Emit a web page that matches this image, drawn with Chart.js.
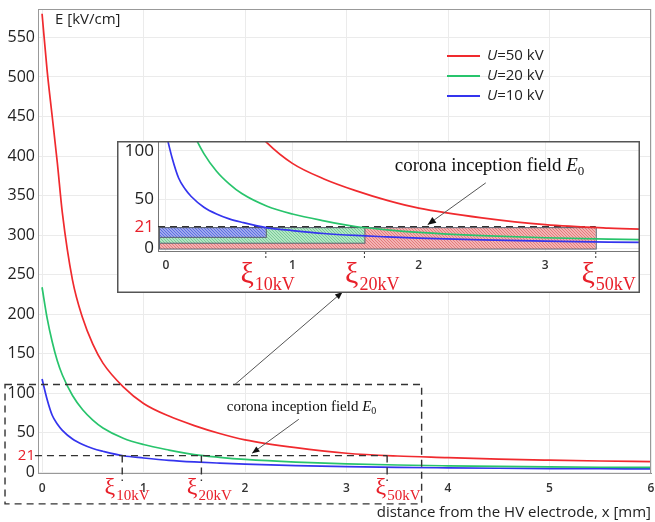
<!DOCTYPE html>
<html>
<head>
<meta charset="utf-8">
<script src="https://cdn.jsdelivr.net/npm/chart.js@4.4.0/dist/chart.umd.min.js"></script>
<style>
  html, body { margin: 0; padding: 0; background: #fff; }
  #wrap { position: relative; width: 655px; height: 522px; }
  #main { position: absolute; left: 0; top: 0; }
  #inset { position: absolute; left: 117px; top: 141px; }
</style>
</head>
<body>
<div id="wrap">
  <canvas id="main" width="655" height="522"></canvas>
  <canvas id="inset" width="523" height="152"></canvas>
</div>
<script>
// distance from the HV electrode [mm]
var xs   = [0, 0.05, 0.1, 0.15, 0.2, 0.3, 0.4, 0.5, 0.6, 0.8, 1.0, 1.25, 1.5, 1.75, 2.0, 2.5, 3.0, 3.5, 4.0, 4.5, 5.0, 5.5, 6.0];
// field strength E [kV/cm]
var eU50 = [580, 508, 450, 392, 328, 243, 195, 162, 138, 108, 87, 71, 59, 49, 41, 31, 24, 20.5, 18.5, 16.5, 15.2, 14.2, 13.5];
var eU20 = [234, 195, 165, 141, 123, 97, 79, 66, 56, 43, 35, 28, 22.2, 18.8, 16.2, 12.8, 10.6, 9.1, 8.1, 7.3, 6.7, 6.3, 6.0];
var eU10 = [118, 92, 72, 61, 53, 42, 35, 30, 26.5, 20.8, 18, 15, 13, 11.5, 10.2, 8.4, 7.1, 6.1, 5.5, 5.0, 4.6, 4.4, 4.2];

var seriesNames = ['=50 kV', '=20 kV', '=10 kV'];
var seriesColors = ['#f02a2e', '#28c46c', '#3434ee'];

var E0 = 21;                       // corona inception field
var xiValues = [0.79, 1.57, 3.40]; // ξ for 10, 20, 50 kV
var xiNames = ['10kV', '20kV', '50kV'];

var mainXTicks = [0, 1, 2, 3, 4, 5, 6];
var mainYTicks = [0, 21, 50, 100, 150, 200, 250, 300, 350, 400, 450, 500, 550];
var insetXTicks = [0, 1, 2, 3];
var insetYTicks = [0, 21, 50, 100];

var SANS = '"Open Sans", "Noto Sans", sans-serif';
var SERIF = '"Liberation Serif", "DejaVu Serif", serif';
var RED = '#e8202a';

function pts(arr) {
  return xs.map(function (x, i) { return { x: x, y: arr[i] }; });
}
function makeDatasets() {
  return [eU50, eU20, eU10].map(function (arr, i) {
    return {
      label: 'U' + seriesNames[i],
      data: pts(arr),
      borderColor: seriesColors[i],
      borderWidth: 1.7,
      pointRadius: 0,
      fill: false,
      cubicInterpolationMode: 'monotone'
    };
  });
}
// kill the automatic label overflow padding so the plot area is exactly where we ask
function noPad(s) { s.paddingLeft = 0; s.paddingRight = 0; s.paddingTop = 0; s.paddingBottom = 0; }

function arrow(ctx, x1, y1, x2, y2, head) {
  ctx.save();
  ctx.strokeStyle = '#555';
  ctx.lineWidth = 1;
  ctx.setLineDash([]);
  ctx.beginPath();
  ctx.moveTo(x1, y1);
  ctx.lineTo(x2, y2);
  ctx.stroke();
  var a = Math.atan2(y2 - y1, x2 - x1);
  ctx.fillStyle = '#111';
  ctx.beginPath();
  ctx.moveTo(x2, y2);
  ctx.lineTo(x2 - head * Math.cos(a - 0.4), y2 - head * Math.sin(a - 0.4));
  ctx.lineTo(x2 - head * Math.cos(a + 0.4), y2 - head * Math.sin(a + 0.4));
  ctx.closePath();
  ctx.fill();
  ctx.restore();
}

function xiLabel(ctx, x, base, name, big, small, shift) {
  ctx.save();
  ctx.fillStyle = RED;
  ctx.textBaseline = 'alphabetic';
  ctx.font = big + 'px ' + SERIF;
  ctx.textAlign = 'right';
  ctx.fillText('\u03BE', x - shift, base);
  ctx.font = small + 'px ' + SERIF;
  ctx.textAlign = 'left';
  ctx.fillText(name, x - shift + 1, base + small * 0.4);
  ctx.restore();
}

function coronaText(ctx, x, y, size) {
  ctx.save();
  ctx.fillStyle = '#111';
  ctx.textBaseline = 'middle';
  ctx.textAlign = 'left';
  ctx.font = size + 'px ' + SERIF;
  var t = 'corona inception field ';
  ctx.fillText(t, x, y);
  var w = ctx.measureText(t).width;
  ctx.font = 'italic ' + size + 'px ' + SERIF;
  ctx.fillText('E', x + w, y);
  w += ctx.measureText('E').width;
  ctx.font = Math.round(size * 0.68) + 'px ' + SERIF;
  ctx.fillText('0', x + w, y + size * 0.3);
  ctx.restore();
}

function dashedLine(ctx, x1, y1, x2, y2) {
  ctx.save();
  ctx.strokeStyle = '#333';
  ctx.lineWidth = 1.4;
  ctx.setLineDash([7, 5]);
  ctx.beginPath();
  ctx.moveTo(x1, y1);
  ctx.lineTo(x2, y2);
  ctx.stroke();
  ctx.restore();
}

var mainDeco = {
  id: 'mainDeco',
  afterDraw: function (chart) {
    var ctx = chart.ctx, a = chart.chartArea;
    var sx = chart.scales.x, sy = chart.scales.y;
    var X = function (v) { return sx.getPixelForValue(v); };
    var Y = function (v) { return sy.getPixelForValue(v); };

    // frame
    ctx.save();
    ctx.strokeStyle = '#999';
    ctx.lineWidth = 1;
    ctx.strokeRect(a.left + 0.5, a.top + 0.5, a.right - a.left - 1, a.bottom - a.top);
    ctx.restore();

    // axis label inside plot
    ctx.save();
    ctx.fillStyle = '#222';
    ctx.font = '15px ' + SANS;
    ctx.textBaseline = 'middle';
    ctx.fillText('E [kV/cm]', a.left + 17, a.top + 11);
    ctx.restore();

    // legend
    ctx.save();
    ctx.textBaseline = 'middle';
    for (var i = 0; i < seriesNames.length; i++) {
      var ly = a.top + 47 + i * 20;
      var lx = a.right - 204;
      ctx.strokeStyle = seriesColors[i];
      ctx.lineWidth = 2;
      ctx.beginPath();
      ctx.moveTo(lx, ly);
      ctx.lineTo(lx + 33, ly);
      ctx.stroke();
      ctx.fillStyle = '#222';
      ctx.font = 'italic 15px ' + SANS;
      ctx.fillText('U', lx + 40, ly);
      var w = ctx.measureText('U').width;
      ctx.font = '15px ' + SANS;
      ctx.fillText(seriesNames[i], lx + 40 + w, ly);
    }
    ctx.restore();

    // dashed zoom window
    ctx.save();
    ctx.strokeStyle = '#333';
    ctx.lineWidth = 1.4;
    ctx.setLineDash([7, 5]);
    ctx.strokeRect(X(-0.365), Y(111), X(3.74) - X(-0.365), Y(-40) - Y(111));
    ctx.restore();

    // E0 level and xi markers
    var mainShift = [7, 4, 1];
    dashedLine(ctx, X(-0.07), Y(E0), X(xiValues[2]), Y(E0));
    xiValues.forEach(function (v, k) {
      dashedLine(ctx, X(v), Y(E0), X(v), Y(-11));
      xiLabel(ctx, X(v), Y(-27), xiNames[k], 24, 15, mainShift[k]);
    });

    coronaText(ctx, X(1.82), Y(83), 15);
    arrow(ctx, X(2.53), Y(67), X(2.07), Y(24), 8);
    arrow(ctx, X(1.9), Y(111), X(2.96), Y(228), 8);
  }
};

new Chart(document.getElementById('main'), {
  type: 'line',
  data: { datasets: makeDatasets() },
  options: {
    responsive: false,
    animation: false,
    devicePixelRatio: 1,
    layout: { padding: { left: 0, right: 4, top: 9, bottom: 0 } },
    plugins: { legend: { display: false }, tooltip: { enabled: false } },
    scales: {
      x: {
        type: 'linear',
        min: -0.04,
        max: 6.0,
        afterBuildTicks: function (s) { s.ticks = mainXTicks.map(function (v) { return { value: v }; }); },
        afterFit: function (s) { s.height = 49; noPad(s); },
        grid: { color: '#ebebeb', drawTicks: false },
        border: { color: '#888' },
        ticks: { padding: 8, color: '#333', font: { family: SANS, size: 12, weight: '600' } },
        title: {
          display: true,
          text: 'distance from the HV electrode, x [mm]',
          align: 'end',
          color: '#222',
          font: { family: SANS, size: 15 },
          padding: 0
        }
      },
      y: {
        min: -1,
        max: 586,
        afterBuildTicks: function (s) { s.ticks = mainYTicks.map(function (v) { return { value: v }; }); },
        afterFit: function (s) { s.width = 38; noPad(s); },
        grid: {
          drawTicks: false,
          color: function (c) { return c.tick && c.tick.value === E0 ? 'rgba(0,0,0,0)' : '#ebebeb'; }
        },
        border: { color: '#888' },
        ticks: {
          padding: 3,
          color: function (c) { return c.tick && c.tick.value === E0 ? RED : '#222'; },
          font: function (c) { return { family: SANS, size: c.tick && c.tick.value === E0 ? 15 : 16 }; }
        }
      }
    }
  },
  plugins: [mainDeco]
});

function hatch(ctx, base, dot) {
  var c = document.createElement('canvas');
  c.width = 3; c.height = 3;
  var g = c.getContext('2d');
  g.fillStyle = base;
  g.fillRect(0, 0, 3, 3);
  g.fillStyle = dot;
  g.fillRect(0, 0, 1, 1);
  g.fillRect(1, 1, 1, 1);
  g.fillRect(2, 2, 1, 1);
  return ctx.createPattern(c, 'repeat');
}

var insetDeco = {
  id: 'insetDeco',
  beforeDraw: function (chart) {
    var ctx = chart.ctx;
    ctx.save();
    ctx.fillStyle = '#fff';
    ctx.fillRect(0, 0, chart.width, chart.height);
    ctx.restore();
  },
  beforeDatasetsDraw: function (chart) {
    var ctx = chart.ctx, a = chart.chartArea;
    var sx = chart.scales.x, sy = chart.scales.y;
    var X = function (v) { return sx.getPixelForValue(v); };
    var Y = function (v) { return sy.getPixelForValue(v); };
    var bands = [
      { to: xiValues[2], low: -1, base: '#f4b3b3', dot: '#e27c7c' },
      { to: xiValues[1], low: 5, base: '#b2e6c4', dot: '#79cb97' },
      { to: xiValues[0], low: 11, base: '#9ea8ee', dot: '#5f6fe0' }
    ];
    bands.forEach(function (b) {
      var x0 = a.left + 1, x1 = X(b.to), y0 = Y(E0), y1 = Y(b.low);
      ctx.save();
      ctx.fillStyle = hatch(ctx, b.base, b.dot);
      ctx.fillRect(x0, y0, x1 - x0, y1 - y0);
      ctx.strokeStyle = '#5a6270';
      ctx.lineWidth = 1;
      ctx.strokeRect(x0 + 0.5, y0, x1 - x0, y1 - y0);
      ctx.restore();
    });
    dashedLine(ctx, a.left, Y(E0) - 1, X(xiValues[2]), Y(E0) - 1);
  },
  afterDraw: function (chart) {
    var ctx = chart.ctx, a = chart.chartArea;
    var sx = chart.scales.x, sy = chart.scales.y;
    var X = function (v) { return sx.getPixelForValue(v); };
    var Y = function (v) { return sy.getPixelForValue(v); };

    var insetShift = [12, 6, 1];
    xiValues.forEach(function (v, k) {
      ctx.save();
      ctx.strokeStyle = '#333';
      ctx.lineWidth = 1;
      ctx.setLineDash([2, 2]);
      ctx.beginPath();
      ctx.moveTo(X(v), a.bottom + 1);
      ctx.lineTo(X(v), a.bottom + 8);
      ctx.stroke();
      ctx.restore();
      xiLabel(ctx, X(v), a.bottom + 32, xiNames[k], 30, 18, insetShift[k]);
    });

    coronaText(ctx, X(1.81), Y(84), 19);
    arrow(ctx, X(2.53), Y(67), X(2.07), Y(24), 9);

    ctx.save();
    ctx.strokeStyle = '#555';
    ctx.lineWidth = 1.5;
    ctx.strokeRect(0.75, 0.75, chart.width - 1.5, chart.height - 1.5);
    ctx.restore();
  }
};

new Chart(document.getElementById('inset'), {
  type: 'line',
  data: { datasets: makeDatasets() },
  options: {
    responsive: false,
    animation: false,
    devicePixelRatio: 1,
    layout: { padding: 0 },
    plugins: { legend: { display: false }, tooltip: { enabled: false } },
    scales: {
      x: {
        type: 'linear',
        min: -0.063,
        max: 3.75,
        afterBuildTicks: function (s) { s.ticks = insetXTicks.map(function (v) { return { value: v }; }); },
        afterFit: function (s) { s.height = 42; noPad(s); },
        grid: { color: '#ececec', drawTicks: false },
        border: { color: '#777' },
        ticks: { padding: 7, color: '#333', font: { family: SANS, size: 12, weight: '600' } }
      },
      y: {
        min: -3,
        max: 110,
        afterBuildTicks: function (s) { s.ticks = insetYTicks.map(function (v) { return { value: v }; }); },
        afterFit: function (s) { s.width = 41; noPad(s); },
        grid: {
          drawTicks: false,
          color: function (c) { return c.tick && c.tick.value === E0 ? 'rgba(0,0,0,0)' : '#ececec'; }
        },
        border: { color: '#777' },
        ticks: {
          padding: 4,
          color: function (c) { return c.tick && c.tick.value === E0 ? RED : '#222'; },
          font: { family: SANS, size: 17 }
        }
      }
    }
  },
  plugins: [insetDeco]
});
</script>
</body>
</html>
